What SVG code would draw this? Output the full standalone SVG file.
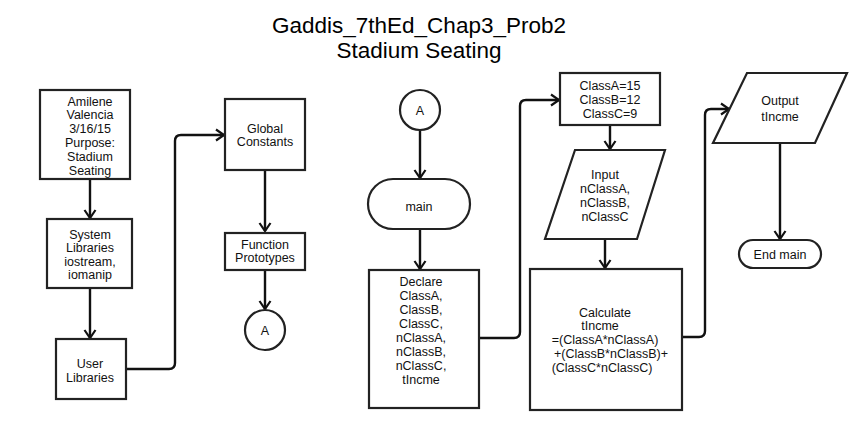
<svg xmlns="http://www.w3.org/2000/svg" width="855" height="430" viewBox="0 0 855 430">
<style>
  .shape { fill: #ffffff; stroke: #222222; stroke-width: 2.2; }
  .t { font-family: "Liberation Sans", Arial, sans-serif; font-size: 12.5px; fill: #111111; text-anchor: middle; }
  .title { font-family: "Liberation Sans", Arial, sans-serif; font-size: 22.5px; fill: #000000; text-anchor: middle; }
  .conn { fill: none; stroke: #111111; stroke-width: 2.4; stroke-linejoin: round; }
</style>
<defs>
  <marker id="arr" markerUnits="userSpaceOnUse" markerWidth="14" markerHeight="14" refX="11" refY="7" orient="auto">
    <path d="M3,1.5 L11,7 L3,12.5" fill="none" stroke="#111111" stroke-width="2.2"/>
  </marker>
</defs>
<rect width="855" height="430" fill="#ffffff"/>

<g id="title">
  <text class="title" x="419" y="33">Gaddis_7thEd_Chap3_Prob2</text>
  <text class="title" x="419" y="58">Stadium Seating</text>
</g>

<g id="connectors">
  <path class="conn" d="M90,179 V218" marker-end="url(#arr)"/>
  <path class="conn" d="M90,288 V338" marker-end="url(#arr)"/>
  <path class="conn" d="M126,369 H169 Q175,369 175,363 V141 Q175,135 181,135 H224" marker-end="url(#arr)"/>
  <path class="conn" d="M265,170 V231" marker-end="url(#arr)"/>
  <path class="conn" d="M265,270 V309" marker-end="url(#arr)"/>
  <path class="conn" d="M420,130 V178" marker-end="url(#arr)"/>
  <path class="conn" d="M420,229 V269" marker-end="url(#arr)"/>
  <path class="conn" d="M479,338 H514 Q520,338 520,332 V106 Q520,100 526,100 H559" marker-end="url(#arr)"/>
  <path class="conn" d="M610,125 V149" marker-end="url(#arr)"/>
  <path class="conn" d="M605,239 V268" marker-end="url(#arr)"/>
  <path class="conn" d="M682,337 H699 Q705,337 705,331 V115 Q705,109 711,109 H729" marker-end="url(#arr)"/>
  <path class="conn" d="M780,143 V239" marker-end="url(#arr)"/>
</g>

<g id="author">
  <rect class="shape" x="40" y="90" width="90" height="89"/>
  <text class="t" x="90" y="105.5">Amilene</text>
  <text class="t" x="90" y="119.3">Valencia</text>
  <text class="t" x="90" y="133">3/16/15</text>
  <text class="t" x="90" y="146.9">Purpose:</text>
  <text class="t" x="90" y="160.7">Stadium</text>
  <text class="t" x="90" y="174.5">Seating</text>
</g>

<g id="syslib">
  <rect class="shape" x="47" y="219" width="85" height="69"/>
  <text class="t" x="90" y="238.5">System</text>
  <text class="t" x="90" y="252">Libraries</text>
  <text class="t" x="90" y="265.5">iostream,</text>
  <text class="t" x="90" y="279">iomanip</text>
</g>

<g id="userlib">
  <rect class="shape" x="56" y="339" width="70" height="60"/>
  <text class="t" x="90" y="367.5">User</text>
  <text class="t" x="90" y="381.5">Libraries</text>
</g>

<g id="global">
  <rect class="shape" x="225" y="99" width="80" height="71"/>
  <text class="t" x="265" y="132.5">Global</text>
  <text class="t" x="265" y="146">Constants</text>
</g>

<g id="proto">
  <rect class="shape" x="225" y="233" width="80" height="37"/>
  <text class="t" x="265" y="248.5">Function</text>
  <text class="t" x="265" y="262">Prototypes</text>
</g>

<g id="connA1">
  <circle class="shape" cx="265" cy="330" r="20"/>
  <text class="t" x="265" y="334.5">A</text>
</g>

<g id="connA2">
  <circle class="shape" cx="420" cy="110" r="20"/>
  <text class="t" x="420" y="114.5">A</text>
</g>

<g id="main">
  <rect class="shape" x="368" y="179" width="102" height="50" rx="25" ry="25"/>
  <text class="t" x="419" y="211">main</text>
</g>

<g id="declare">
  <rect class="shape" x="369" y="270" width="110" height="138"/>
  <text class="t" x="421" y="286">Declare</text>
  <text class="t" x="421" y="299.5">ClassA,</text>
  <text class="t" x="421" y="313.5">ClassB,</text>
  <text class="t" x="421" y="327.5">ClassC,</text>
  <text class="t" x="421" y="341.5">nClassA,</text>
  <text class="t" x="421" y="356">nClassB,</text>
  <text class="t" x="421" y="370">nClassC,</text>
  <text class="t" x="421" y="383.5">tIncme</text>
</g>

<g id="consts">
  <rect class="shape" x="560" y="73" width="100" height="52"/>
  <text class="t" x="610" y="89.5">ClassA=15</text>
  <text class="t" x="610" y="103.5">ClassB=12</text>
  <text class="t" x="610" y="117.5">ClassC=9</text>
</g>

<g id="input">
  <polygon class="shape" points="575,150 665,150 637,239 545,239"/>
  <text class="t" x="605" y="178.8">Input</text>
  <text class="t" x="605" y="192.8">nClassA,</text>
  <text class="t" x="605" y="206.8">nClassB,</text>
  <text class="t" x="605" y="220.5">nClassC</text>
</g>

<g id="calc">
  <rect class="shape" x="530" y="269" width="152" height="141"/>
  <text class="t" x="605" y="317">Calculate</text>
  <text class="t" x="600" y="329.5">tIncme</text>
  <text class="t" x="605" y="343.8">=(ClassA*nClassA)</text>
  <text class="t" x="611" y="357.8">+(ClassB*nClassB)+</text>
  <text class="t" x="602" y="371.8">(ClassC*nClassC)</text>
</g>

<g id="output">
  <polygon class="shape" points="747,73 847,73 815,143 713,143"/>
  <text class="t" x="780" y="104.5">Output</text>
  <text class="t" x="780" y="121">tIncme</text>
</g>

<g id="endmain">
  <rect class="shape" x="739" y="240" width="82" height="28" rx="14" ry="14"/>
  <text class="t" x="780" y="259">End main</text>
</g>
</svg>
